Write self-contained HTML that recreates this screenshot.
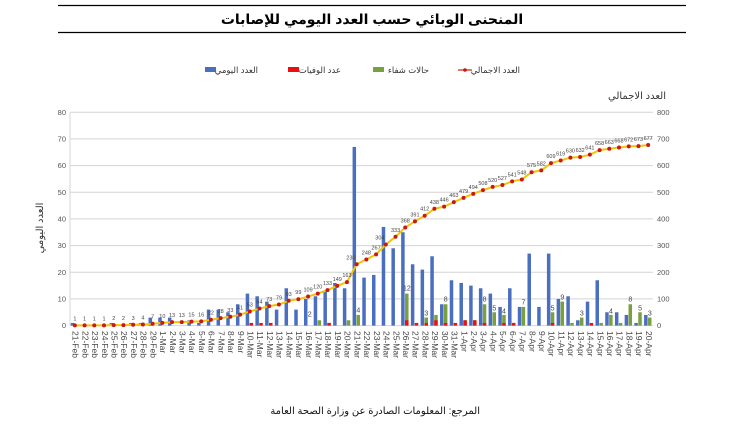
<!DOCTYPE html>
<html><head><meta charset="utf-8"><style>
body{margin:0;background:#fff;width:753px;height:434px;overflow:hidden}
svg{display:block;font-family:"Liberation Sans","DejaVu Sans",sans-serif}
</style></head><body>
<svg width="753" height="434" viewBox="0 0 753 434" xmlns="http://www.w3.org/2000/svg">
<line x1="58" y1="5.5" x2="686" y2="5.5" stroke="#000" stroke-width="1.3"/>
<line x1="58" y1="32.5" x2="686" y2="32.5" stroke="#000" stroke-width="1.3"/>
<text x="372" y="24" text-anchor="middle" font-size="14" font-weight="bold" direction="rtl">المنحنى الوبائي حسب العدد اليومي للإصابات</text>
<!-- legend -->
<g font-size="8.5" fill="#333" direction="rtl">
<rect x="205" y="67" width="11" height="5" fill="#4a6fc1"/><text x="258" y="73" text-anchor="start">العدد اليومي</text>
<rect x="288" y="67" width="11" height="5" fill="#e81010"/><text x="341" y="73" text-anchor="start">عدد الوفيات</text>
<rect x="373" y="67" width="11" height="5" fill="#78a040"/><text x="429" y="73" text-anchor="start">حالات شفاء</text>
<line x1="458" y1="70" x2="472" y2="70" stroke="#d05030" stroke-width="1.5"/><circle cx="465" cy="70" r="1.8" fill="#c01818"/><text x="520" y="73" text-anchor="start">العدد الاجمالي</text>
</g>
<text x="666" y="99" text-anchor="start" direction="rtl" font-size="10" fill="#333">العدد الاجمالي</text>
<text transform="translate(43,228) rotate(-90)" text-anchor="middle" direction="rtl" font-size="10" fill="#333">العدد اليومي</text>
<!-- grid -->
<g stroke="#d4d4d4" stroke-width="1">
<line x1="70" y1="112.3" x2="653" y2="112.3"/><line x1="70" y1="138.9" x2="653" y2="138.9"/><line x1="70" y1="165.6" x2="653" y2="165.6"/><line x1="70" y1="192.3" x2="653" y2="192.3"/><line x1="70" y1="218.9" x2="653" y2="218.9"/><line x1="70" y1="245.6" x2="653" y2="245.6"/><line x1="70" y1="272.3" x2="653" y2="272.3"/><line x1="70" y1="298.9" x2="653" y2="298.9"/><line x1="70" y1="325.6" x2="653" y2="325.6"/>
<line x1="70" y1="112.3" x2="70" y2="325.6"/>
</g>
<g font-size="7.5" fill="#555" text-anchor="end">
<text x="66" y="115">80</text><text x="66" y="141.5">70</text><text x="66" y="168">60</text><text x="66" y="195">50</text><text x="66" y="221.5">40</text><text x="66" y="248">30</text><text x="66" y="275">20</text><text x="66" y="301.5">10</text><text x="66" y="328">0</text>
</g>
<g font-size="7.5" fill="#555" text-anchor="start">
<text x="657" y="115">800</text><text x="657" y="141.5">700</text><text x="657" y="168">600</text><text x="657" y="195">500</text><text x="657" y="221.5">400</text><text x="657" y="248">300</text><text x="657" y="275">200</text><text x="657" y="301.5">100</text><text x="657" y="328">0</text>
</g>
<!-- bars -->
<g transform="translate(74.86,325.6) scale(9.717,-2.667)">
<g fill="#4a6fc1">
<rect x="-0.42" width="0.36" height="1"/><rect x="3.58" width="0.36" height="1"/><rect x="5.58" width="0.36" height="1"/><rect x="6.58" width="0.36" height="1"/><rect x="7.58" width="0.36" height="3"/>
<rect x="8.58" width="0.36" height="3"/><rect x="9.58" width="0.36" height="3"/><rect x="11.58" width="0.36" height="2"/><rect x="12.58" width="0.36" height="1"/><rect x="13.58" width="0.36" height="6"/><rect x="14.58" width="0.36" height="6"/><rect x="15.58" width="0.36" height="5"/><rect x="16.58" width="0.36" height="8"/><rect x="17.58" width="0.36" height="12"/><rect x="18.58" width="0.36" height="11"/><rect x="19.58" width="0.36" height="9"/><rect x="20.58" width="0.36" height="6"/><rect x="21.58" width="0.36" height="14"/><rect x="22.58" width="0.36" height="6"/><rect x="23.58" width="0.36" height="10"/><rect x="24.58" width="0.36" height="11"/><rect x="25.58" width="0.36" height="13"/><rect x="26.58" width="0.36" height="16"/><rect x="27.58" width="0.36" height="14"/><rect x="28.58" width="0.36" height="67"/><rect x="29.58" width="0.36" height="18"/><rect x="30.58" width="0.36" height="19"/><rect x="31.58" width="0.36" height="37"/><rect x="32.58" width="0.36" height="29"/><rect x="33.58" width="0.36" height="35"/><rect x="34.58" width="0.36" height="23"/><rect x="35.58" width="0.36" height="21"/><rect x="36.58" width="0.36" height="26"/><rect x="37.58" width="0.36" height="8"/><rect x="38.58" width="0.36" height="17"/>
<rect x="39.58" width="0.36" height="16"/><rect x="40.58" width="0.36" height="15"/><rect x="41.58" width="0.36" height="14"/><rect x="42.58" width="0.36" height="12"/><rect x="43.58" width="0.36" height="7"/><rect x="44.58" width="0.36" height="14"/><rect x="45.58" width="0.36" height="7"/><rect x="46.58" width="0.36" height="27"/><rect x="47.58" width="0.36" height="7"/><rect x="48.58" width="0.36" height="27"/><rect x="49.58" width="0.36" height="10"/><rect x="50.58" width="0.36" height="11"/><rect x="51.58" width="0.36" height="2"/><rect x="52.58" width="0.36" height="9"/><rect x="53.58" width="0.36" height="17"/><rect x="54.58" width="0.36" height="5"/><rect x="55.58" width="0.36" height="5"/><rect x="56.58" width="0.36" height="4"/><rect x="57.58" width="0.36" height="1"/><rect x="58.58" width="0.36" height="4"/>
</g>
<g fill="#78a040">
<rect x="24.98" width="0.36" height="2"/><rect x="25.98" width="0.36" height="1"/><rect x="27.98" width="0.36" height="2"/><rect x="28.98" width="0.36" height="4"/><rect x="33.98" width="0.36" height="12"/><rect x="35.98" width="0.36" height="3"/><rect x="36.98" width="0.36" height="4"/><rect x="37.98" width="0.36" height="8"/><rect x="39.98" width="0.36" height="2"/><rect x="40.98" width="0.36" height="2"/><rect x="41.98" width="0.36" height="8"/><rect x="42.98" width="0.36" height="5"/><rect x="43.98" width="0.36" height="4"/><rect x="44.98" width="0.36" height="1"/><rect x="45.98" width="0.36" height="7"/><rect x="48.98" width="0.36" height="5"/><rect x="49.98" width="0.36" height="9"/><rect x="50.98" width="0.36" height="1"/><rect x="51.98" width="0.36" height="3"/><rect x="53.98" width="0.36" height="1"/><rect x="54.98" width="0.36" height="4"/><rect x="55.98" width="0.36" height="1"/><rect x="56.98" width="0.36" height="8"/><rect x="57.98" width="0.36" height="5"/><rect x="58.98" width="0.36" height="3"/>
</g>
<g fill="#e81010">
<rect x="17.98" width="0.36" height="1"/><rect x="18.98" width="0.36" height="1"/><rect x="19.98" width="0.36" height="1"/><rect x="25.98" width="0.36" height="1"/><rect x="33.98" width="0.36" height="2"/><rect x="34.98" width="0.36" height="1"/><rect x="35.98" width="0.36" height="1"/><rect x="36.98" width="0.36" height="2"/><rect x="37.98" width="0.36" height="1"/><rect x="38.98" width="0.36" height="1"/><rect x="39.98" width="0.36" height="2"/><rect x="40.98" width="0.36" height="2"/><rect x="41.98" width="0.36" height="1"/><rect x="43.98" width="0.36" height="1"/><rect x="44.98" width="0.36" height="1"/><rect x="48.98" width="0.36" height="1"/><rect x="52.98" width="0.36" height="1"/>
</g>
</g>
<!-- cumulative line -->
<defs><linearGradient id="lg" gradientUnits="userSpaceOnUse" x1="74" y1="0" x2="648" y2="0">
<stop offset="0" stop-color="#f5c400"/><stop offset="0.45" stop-color="#f5b000"/><stop offset="0.55" stop-color="#e87020"/><stop offset="0.65" stop-color="#cc2a2a"/><stop offset="1" stop-color="#7a1010"/></linearGradient></defs>
<g transform="translate(74.86,325.6) scale(9.717,-0.2667)">
<polyline fill="none" stroke="url(#lg)" stroke-width="2" vector-effect="non-scaling-stroke" points="0,1 1,1 2,1 3,1 4,2 5,2 6,3 7,4 8,7 9,10 10,13 11,13 12,15 13,16 14,22 15,28 16,33 17,41 18,53 19,64 20,73 21,79 22,93 23,99 24,109 25,120 26,133 27,149 28,163 29,230 30,248 31,267 32,304 33,333 34,368 35,391 36,412 37,438 38,446 39,463 40,479 41,494 42,508 43,520 44,527 45,541 46,548 47,575 48,582 49,609 50,619 51,630 52,632 53,641 54,658 55,663 56,668 57,672 58,673 59,677"/>
<path fill="none" stroke="#c81818" stroke-width="4" stroke-linecap="round" vector-effect="non-scaling-stroke" d="M0,1h0M1,1h0M2,1h0M3,1h0M4,2h0M5,2h0M6,3h0M7,4h0M8,7h0M9,10h0M10,13h0M11,13h0M12,15h0M13,16h0M14,22h0M15,28h0M16,33h0M17,41h0M18,53h0M19,64h0M20,73h0M21,79h0M22,93h0M23,99h0M24,109h0M25,120h0M26,133h0M27,149h0M28,163h0M29,230h0M30,248h0M31,267h0M32,304h0M33,333h0M34,368h0M35,391h0M36,412h0M37,438h0M38,446h0M39,463h0M40,479h0M41,494h0M42,508h0M43,520h0M44,527h0M45,541h0M46,548h0M47,575h0M48,582h0M49,609h0M50,619h0M51,630h0M52,632h0M53,641h0M54,658h0M55,663h0M56,668h0M57,672h0M58,673h0M59,677h0"/>
</g>
<g transform="translate(74.86,325.6)" font-size="5.5" fill="#444" text-anchor="middle">
<text x="0" y="-5.3">1</text><text x="9.7" y="-5.3">1</text><text x="19.4" y="-5.3">1</text><text x="29.2" y="-5.3">1</text><text x="38.9" y="-5.5">2</text><text x="48.6" y="-5.5">2</text><text x="58.3" y="-5.8">3</text><text x="68" y="-6.1">4</text><text x="77.7" y="-6.9">7</text><text x="87.5" y="-7.7">10</text><text x="97.2" y="-8.5">13</text><text x="106.9" y="-8.5">13</text><text x="116.6" y="-9">15</text><text x="126.3" y="-9.3">16</text><text x="136" y="-10.9">22</text><text x="145.8" y="-12.5">28</text><text x="155.5" y="-13.8">33</text><text x="165.2" y="-15.9">41</text><text x="174.9" y="-19.1">53</text><text x="184.6" y="-22.1">64</text><text x="194.3" y="-24.5">73</text><text x="204.1" y="-26.1">79</text><text x="213.8" y="-29.8">93</text><text x="223.5" y="-31.4">99</text><text x="233.2" y="-34.1">109</text><text x="242.9" y="-37">120</text><text x="252.6" y="-40.5">133</text><text x="262.4" y="-44.7">149</text><text x="272.1" y="-48.5">163</text><text x="276" y="-66.3">230</text><text x="291.5" y="-71.1">248</text><text x="301.2" y="-76.2">267</text><text x="305" y="-86.1">304</text><text x="320.7" y="-93.8">333</text><text x="330.4" y="-103.1">368</text><text x="340.1" y="-109.3">391</text><text x="349.8" y="-114.9">412</text><text x="359.5" y="-121.8">438</text><text x="369.2" y="-124">446</text><text x="379" y="-128.5">463</text><text x="388.7" y="-132.7">479</text><text x="398.4" y="-136.7">494</text><text x="408.1" y="-140.5">508</text><text x="417.8" y="-143.7">520</text><text x="427.5" y="-145.6">527</text><text x="437.3" y="-149.3">541</text><text x="447" y="-151.2">548</text><text x="456.7" y="-158.4">575</text><text x="466.4" y="-160.2">582</text><text x="476.1" y="-167.4">609</text><text x="485.8" y="-170.1">619</text><text x="495.5" y="-173">630</text><text x="505.3" y="-173.6">632</text><text x="515" y="-176">641</text><text x="524.7" y="-180.5">658</text><text x="534.4" y="-181.8">663</text><text x="544.1" y="-183.2">668</text><text x="553.8" y="-184.2">672</text><text x="563.6" y="-184.5">673</text><text x="573.3" y="-185.6">677</text>
</g>
<g transform="translate(76.5,325.6)" font-size="7" fill="#444" text-anchor="middle">
<text x="233.2" y="-9">2</text><text x="281.8" y="-13">4</text><text x="330.4" y="-35">12</text><text x="349.8" y="-10">3</text><text x="369.2" y="-24">8</text><text x="408.1" y="-24">8</text><text x="417.8" y="-15">5</text><text x="427.5" y="-12">4</text><text x="447" y="-21">7</text><text x="476.1" y="-15">5</text><text x="485.8" y="-26">9</text><text x="505.3" y="-10">3</text><text x="534.4" y="-12">4</text><text x="553.8" y="-24">8</text><text x="563.6" y="-15">5</text><text x="573.3" y="-10">3</text>
</g>
<!-- x labels -->
<g transform="translate(74.86,331)" font-size="8.5" fill="#444" dominant-baseline="middle">
<text transform="translate(0,0) rotate(90)">21-Feb</text><text transform="translate(9.7,0) rotate(90)">22-Feb</text><text transform="translate(19.4,0) rotate(90)">23-Feb</text><text transform="translate(29.2,0) rotate(90)">24-Feb</text><text transform="translate(38.9,0) rotate(90)">25-Feb</text><text transform="translate(48.6,0) rotate(90)">26-Feb</text><text transform="translate(58.3,0) rotate(90)">27-Feb</text><text transform="translate(68,0) rotate(90)">28-Feb</text><text transform="translate(77.7,0) rotate(90)">29-Feb</text>
<text transform="translate(87.5,0) rotate(90)">1-Mar</text><text transform="translate(97.2,0) rotate(90)">2-Mar</text><text transform="translate(106.9,0) rotate(90)">3-Mar</text><text transform="translate(116.6,0) rotate(90)">4-Mar</text><text transform="translate(126.3,0) rotate(90)">5-Mar</text><text transform="translate(136,0) rotate(90)">6-Mar</text><text transform="translate(145.8,0) rotate(90)">7-Mar</text><text transform="translate(155.5,0) rotate(90)">8-Mar</text><text transform="translate(165.2,0) rotate(90)">9-Mar</text><text transform="translate(174.9,0) rotate(90)">10-Mar</text><text transform="translate(184.6,0) rotate(90)">11-Mar</text><text transform="translate(194.3,0) rotate(90)">12-Mar</text><text transform="translate(204.1,0) rotate(90)">13-Mar</text><text transform="translate(213.8,0) rotate(90)">14-Mar</text><text transform="translate(223.5,0) rotate(90)">15-Mar</text><text transform="translate(233.2,0) rotate(90)">16-Mar</text><text transform="translate(242.9,0) rotate(90)">17-Mar</text><text transform="translate(252.6,0) rotate(90)">18-Mar</text><text transform="translate(262.4,0) rotate(90)">19-Mar</text><text transform="translate(272.1,0) rotate(90)">20-Mar</text><text transform="translate(281.8,0) rotate(90)">21-Mar</text><text transform="translate(291.5,0) rotate(90)">22-Mar</text><text transform="translate(301.2,0) rotate(90)">23-Mar</text><text transform="translate(310.9,0) rotate(90)">24-Mar</text><text transform="translate(320.7,0) rotate(90)">25-Mar</text><text transform="translate(330.4,0) rotate(90)">26-Mar</text><text transform="translate(340.1,0) rotate(90)">27-Mar</text><text transform="translate(349.8,0) rotate(90)">28-Mar</text><text transform="translate(359.5,0) rotate(90)">29-Mar</text><text transform="translate(369.2,0) rotate(90)">30-Mar</text><text transform="translate(379,0) rotate(90)">31-Mar</text>
<text transform="translate(388.7,0) rotate(90)">1-Apr</text><text transform="translate(398.4,0) rotate(90)">2-Apr</text><text transform="translate(408.1,0) rotate(90)">3-Apr</text><text transform="translate(417.8,0) rotate(90)">4-Apr</text><text transform="translate(427.5,0) rotate(90)">5-Apr</text><text transform="translate(437.3,0) rotate(90)">6-Apr</text><text transform="translate(447,0) rotate(90)">7-Apr</text><text transform="translate(456.7,0) rotate(90)">8-Apr</text><text transform="translate(466.4,0) rotate(90)">9-Apr</text><text transform="translate(476.1,0) rotate(90)">10-Apr</text><text transform="translate(485.8,0) rotate(90)">11-Apr</text><text transform="translate(495.5,0) rotate(90)">12-Apr</text><text transform="translate(505.3,0) rotate(90)">13-Apr</text><text transform="translate(515,0) rotate(90)">14-Apr</text><text transform="translate(524.7,0) rotate(90)">15-Apr</text><text transform="translate(534.4,0) rotate(90)">16-Apr</text><text transform="translate(544.1,0) rotate(90)">17-Apr</text><text transform="translate(553.8,0) rotate(90)">18-Apr</text><text transform="translate(563.6,0) rotate(90)">19-Apr</text><text transform="translate(573.3,0) rotate(90)">20-Apr</text>
</g>
<text x="480" y="414" text-anchor="start" direction="rtl" font-size="10" fill="#111">المرجع: المعلومات الصادرة عن وزارة الصحة العامة</text>
</svg>
</body></html>
